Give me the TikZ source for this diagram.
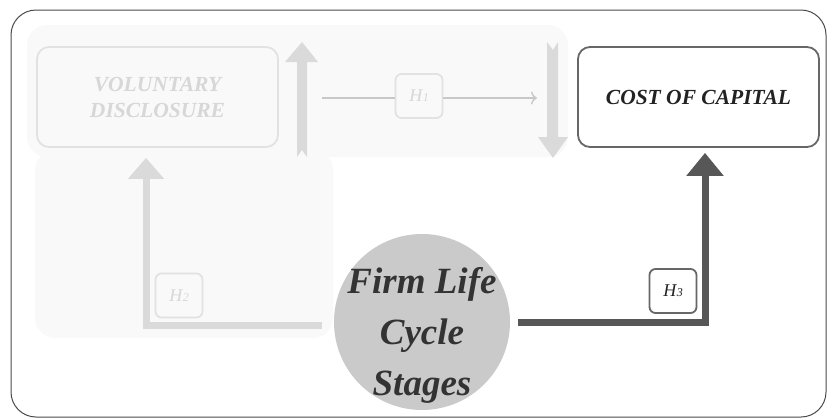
\documentclass[tikz,border=0pt]{standalone}
\usepackage{fontspec}
\setmainfont{Liberation Serif}
\usetikzlibrary{arrows.meta,calc}
\definecolor{framec}{HTML}{4A4A4A}
\definecolor{panelc}{HTML}{F9F9F9}
\definecolor{lightarr}{HTML}{DADADA}
\definecolor{lightbox}{HTML}{E2E2E2}
\definecolor{lighttxt}{HTML}{D7D7D7}
\definecolor{darkarr}{HTML}{575757}
\definecolor{darkbox}{HTML}{676767}
\definecolor{darktxt}{HTML}{222222}
\definecolor{circc}{HTML}{CACACA}
\definecolor{circtxt}{HTML}{333333}
\definecolor{hline}{HTML}{C8C8C8}
\tikzset{
  panel/.style={fill=panelc, draw=none, rounded corners=20pt},
  varbox/.style={rectangle, rounded corners=12pt, line width=1.8pt, minimum width=241pt, minimum height=100pt, align=center, font=\fontsize{21.5}{26}\selectfont\bfseries\itshape},
  lightvar/.style={varbox, draw=lightbox, fill=panelc, text=lighttxt},
  darkvar/.style={varbox, draw=darkbox, fill=white, text=darktxt},
  hbox/.style={rectangle, rounded corners=6pt, line width=1.8pt, minimum width=47pt, minimum height=44pt, inner sep=0pt, font=\fontsize{18}{20}\selectfont\itshape},
  hlight/.style={hbox, draw=lightbox, fill=panelc, text=lighttxt},
  hdark/.style={hbox, draw=darkbox, fill=white, text=darktxt},
  blockarr/.style={fill=lightarr, draw=none},
  lightconn/.style={draw=lightarr, line width=7pt, -{Triangle[width=35pt,length=21pt]}},
  darkconn/.style={draw=darkarr, line width=7pt, -{Triangle[width=36pt,length=23pt]}},
  thinconn/.style={draw=hline, line width=1.4pt},
}
\newcommand{\hlab}[1]{H\kern0.5pt{\fontsize{12}{12}\selectfont #1}}
\begin{document}
\begin{tikzpicture}[x=1pt,y=-1pt]
\useasboundingbox (0,0) rectangle (831,418);
% outer frame
\draw[framec, line width=1pt, rounded corners=25pt] (11,10) rectangle (826,417);
% background panels
\fill[panel] (27,25) rectangle (568,157);
\fill[panel] (35,150) rectangle (333,338);
% block arrows
\fill[blockarr] (302,42) -- (318,62) -- (307,62) -- (307,157) -- (302,150) -- (297,157) -- (297,62) -- (285,62) -- cycle;
\fill[blockarr] (547,42) -- (553,50) -- (558,42) -- (558,137) -- (568,137) -- (553,158) -- (538,137) -- (547,137) -- cycle;
% variable boxes
\node[lightvar] (vd) at (157.5,97) {VOLUNTARY\\DISCLOSURE};
\node[darkvar] (coc) at (698.5,97) {COST OF CAPITAL};
% circle
\node[circle, fill=circc, minimum size=176pt, inner sep=0pt] (fls) at (422,322) {};
\node[align=center, text=circtxt, font=\fontsize{37}{51}\selectfont\bfseries\itshape] (flt) at ([yshift=-13pt]fls.center) {Firm Life\\Cycle\\Stages};
% H1
\coordinate (h1s) at (322,98);
\coordinate (h1e) at (537,98);
\node[hlight] (h1) at (419,96) {\hlab{1}};
\draw[thinconn] (h1s) -- (h1.west |- h1s);
\draw[thinconn, -{To[length=6pt,width=13pt]}] (h1.east |- h1e) -- (h1e);
% H2
\draw[lightconn] ([xshift=-12pt,yshift=-3pt]fls.west) -| ([xshift=-11.5pt,yshift=-10pt]vd.south);
\node[hlight] (h2) at (179,295.5) {\hlab{2}};
% H3
\draw[darkconn] ([xshift=8pt]fls.east) -| ([xshift=6.5pt,yshift=-5pt]coc.south);
\node[hdark] (h3) at (673,291) {\hlab{3}};
\end{tikzpicture}
\end{document}
